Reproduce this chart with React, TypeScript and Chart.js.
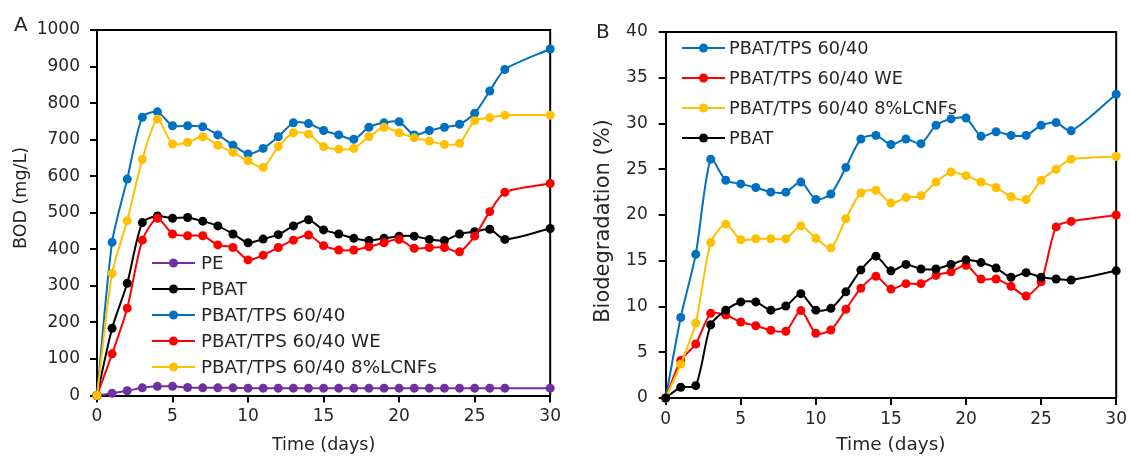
import React, { useEffect, useRef } from 'react';
import { Chart, registerables } from 'chart.js';

Chart.register(...registerables);

// ---------- data ----------
const days = [0, 1, 2, 3, 4, 5, 6, 7, 8, 9, 10, 11, 12, 13, 14, 15, 16, 17, 18, 19, 20, 21, 22, 23, 24, 25, 26, 27, 30];

// Panel A: BOD (mg/L)
const peA = [0, 6, 13, 21, 25, 25, 22, 21, 21, 21, 20, 20, 20, 20, 20, 20, 20, 20, 20, 20, 20, 20, 20, 20, 20, 20, 20, 20, 20];
const pbatA = [0, 184, 307, 473, 491, 485, 487, 477, 464, 442, 418, 428, 440, 464, 481, 453, 442, 430, 424, 430, 436, 436, 427, 424, 442, 448, 455, 427, 457];
const tpsA = [0, 419, 592, 761, 776, 738, 738, 735, 713, 685, 661, 676, 708, 746, 744, 725, 713, 701, 734, 746, 749, 713, 725, 734, 742, 772, 833, 892, 948];
const tpsWeA = [0, 114, 239, 425, 485, 442, 437, 437, 412, 405, 371, 384, 405, 425, 439, 410, 398, 398, 407, 418, 427, 403, 405, 405, 393, 436, 503, 556, 580];
const tpsLcnfA = [0, 334, 478, 646, 756, 688, 693, 708, 685, 665, 642, 624, 681, 719, 715, 681, 674, 676, 708, 734, 719, 705, 696, 687, 690, 752, 760, 767, 767];

// Panel B: Biodegradation (%)
const tpsB = [0, 8.8, 15.7, 26.1, 23.8, 23.4, 23.0, 22.5, 22.5, 23.6, 21.7, 22.3, 25.2, 28.3, 28.7, 27.7, 28.3, 27.8, 29.8, 30.5, 30.6, 28.6, 29.1, 28.7, 28.7, 29.8, 30.1, 29.2, 33.2];
const tpsWeB = [0, 4.1, 5.9, 9.25, 9.07, 8.3, 7.9, 7.4, 7.3, 9.55, 7.07, 7.43, 9.7, 12.0, 13.3, 11.9, 12.5, 12.5, 13.4, 13.8, 14.5, 13.0, 13.0, 12.2, 11.15, 12.7, 18.7, 19.3, 20.0];
const tpsLcnfB = [0, 3.7, 8.2, 17.0, 19.0, 17.3, 17.4, 17.4, 17.4, 18.8, 17.45, 16.4, 19.6, 22.4, 22.7, 21.3, 21.9, 22.1, 23.6, 24.7, 24.3, 23.6, 23.0, 22.0, 21.7, 23.8, 25.0, 26.1, 26.4];
const pbatB = [0, 1.17, 1.35, 8.0, 9.6, 10.5, 10.5, 9.6, 10.05, 11.4, 9.6, 9.8, 11.6, 14.0, 15.5, 13.9, 14.6, 14.1, 14.1, 14.6, 15.1, 14.8, 14.2, 13.2, 13.7, 13.2, 13.0, 12.9, 13.9];

const labelsA = ['PE', 'PBAT', 'PBAT/TPS 60/40', 'PBAT/TPS 60/40 WE', 'PBAT/TPS 60/40 8%LCNFs'];
const labelsB = ['PBAT/TPS 60/40', 'PBAT/TPS 60/40 WE', 'PBAT/TPS 60/40 8%LCNFs', 'PBAT'];

// ---------- styles ----------
const FONT = '"DejaVu Sans", sans-serif';
const TEXT = '#262626';
const C_PE = '#7030A0';
const C_PBAT = '#000000';
const C_BLUE = '#0070C0';
const C_RED = '#FF0000';
const C_YEL = '#FFC000';

function ds(label: string, values: number[], color: string, order: number) {
  return {
    label,
    data: days.map((d, i) => ({ x: d, y: values[i] })),
    borderColor: color,
    backgroundColor: color,
    pointBackgroundColor: color,
    pointBorderColor: color,
    pointRadius: 4.5,
    pointBorderWidth: 0,
    borderWidth: 2,
    tension: 0.25,
    clip: false as any,
    order,
  };
}

const framePlugin = {
  id: 'frame',
  beforeDatasetsDraw(chart: any) {
    const { ctx, chartArea: a } = chart;
    ctx.save();
    ctx.strokeStyle = '#000';
    ctx.lineWidth = 2;
    ctx.beginPath();
    ctx.moveTo(a.left, a.top);
    ctx.lineTo(a.right, a.top);
    ctx.lineTo(a.right, a.bottom);
    ctx.stroke();
    ctx.restore();
  },
};

const insideLegend = {
  id: 'insideLegend',
  afterDraw(chart: any, _args: any, o: any) {
    const { ctx } = chart;
    ctx.save();
    ctx.font = `${o.fontSize}px ${FONT}`;
    ctx.textBaseline = 'middle';
    ctx.textAlign = 'left';
    chart.data.datasets.forEach((d: any, i: number) => {
      const y = o.y + i * o.gap;
      ctx.strokeStyle = d.borderColor;
      ctx.lineWidth = 2;
      ctx.beginPath();
      ctx.moveTo(o.x, y);
      ctx.lineTo(o.x + o.lineLen, y);
      ctx.stroke();
      ctx.fillStyle = d.borderColor;
      ctx.beginPath();
      ctx.arc(o.x + o.lineLen / 2, y, 4.5, 0, Math.PI * 2);
      ctx.fill();
      ctx.fillStyle = TEXT;
      ctx.fillText(d.label, o.x + o.lineLen + o.textGap, y + 1);
    });
    // panel letter
    ctx.font = `${o.letterSize}px ${FONT}`;
    ctx.fillStyle = TEXT;
    ctx.fillText(o.letter, o.letterX, o.letterY);
    // y-axis title (rotated)
    ctx.save();
    ctx.translate(o.yTitleX, o.yTitleY);
    ctx.rotate(-Math.PI / 2);
    ctx.font = `${o.yTitleSize}px ${FONT}`;
    ctx.textAlign = 'center';
    ctx.textBaseline = 'middle';
    ctx.fillText(o.yTitle, 0, 0);
    ctx.restore();
    ctx.restore();
  },
};

function makeConfig(p: any) {
  const tickFont = { family: FONT, size: 17 };
  const grid = {
    display: true,
    drawOnChartArea: false,
    drawTicks: true,
    tickLength: 7,
    tickColor: '#000',
    color: '#000',
    lineWidth: 2,
  };
  return {
    type: 'line',
    data: { datasets: p.datasets },
    plugins: [framePlugin, insideLegend],
    options: {
      animation: false,
      responsive: false,
      maintainAspectRatio: false,
      layout: { padding: p.padding },
      plugins: {
        legend: { display: false },
        tooltip: { enabled: false },
        insideLegend: p.legend,
      },
      scales: {
        x: {
          type: 'linear',
          min: 0,
          max: 30,
          ticks: { stepSize: 5, font: tickFont, color: TEXT, padding: 4, maxRotation: 0, callback: (v: any) => String(v) },
          grid,
          border: { display: true, color: '#000', width: 2 },
          title: { display: true, text: 'Time (days)', font: { family: FONT, size: p.xTitleSize }, color: TEXT, padding: { top: 0, bottom: p.xTitlePad } },
          afterFit: (s: any) => { s.height = p.xHeight; },
        },
        y: {
          type: 'linear',
          min: 0,
          max: p.yMax,
          ticks: { stepSize: p.yStep, font: tickFont, color: TEXT, padding: p.yPad, callback: (v: any) => String(v) },
          grid,
          border: { display: true, color: '#000', width: 2 },
          title: { display: false },
          afterFit: (s: any) => { s.width = p.yWidth; },
        },
      },
    },
  };
}

function Panel(props: { cfg: any; width: number; left: number }) {
  const ref = useRef<HTMLCanvasElement>(null);
  useEffect(() => {
    const chart = new Chart(ref.current as HTMLCanvasElement, props.cfg);
    return () => chart.destroy();
  }, []);
  return (
    <canvas
      ref={ref}
      width={props.width}
      height={456}
      style={{ position: 'absolute', left: props.left, top: 0, width: props.width, height: 456 }}
    />
  );
}

const cfgA = makeConfig({
  datasets: [
    ds(labelsA[0], peA, C_PE, 4),
    ds(labelsA[1], pbatA, C_PBAT, 3),
    ds(labelsA[2], tpsA, C_BLUE, 2),
    ds(labelsA[3], tpsWeA, C_RED, 1),
    ds(labelsA[4], tpsLcnfA, C_YEL, 0),
  ],
  padding: { left: 0, right: 12, top: 30, bottom: 0 },
  xHeight: 60.5,
  xTitleSize: 17.5,
  xTitlePad: 0.5,
  yWidth: 97,
  yMax: 1000,
  yStep: 100,
  yPad: 10,
  legend: {
    x: 152, y: 263, gap: 26, lineLen: 43, textGap: 6, fontSize: 18.3,
    letter: 'A', letterX: 14, letterY: 26, letterSize: 20,
    yTitle: 'BOD (mg/L)', yTitleX: 21.5, yTitleY: 198, yTitleSize: 17.5,
  },
});

const cfgB = makeConfig({
  datasets: [
    ds(labelsB[0], tpsB, C_BLUE, 3),
    ds(labelsB[1], tpsWeB, C_RED, 2),
    ds(labelsB[2], tpsLcnfB, C_YEL, 1),
    ds(labelsB[3], pbatB, C_PBAT, 0),
  ],
  padding: { left: 0, right: 13, top: 32, bottom: 0 },
  xHeight: 58,
  xTitleSize: 18.5,
  xTitlePad: 0,
  yWidth: 100.7,
  yMax: 40,
  yStep: 5,
  yPad: 11,
  legend: {
    x: 117, y: 48, gap: 30, lineLen: 43, textGap: 4, fontSize: 17.7,
    letter: 'B', letterX: 31, letterY: 33, letterSize: 20,
    yTitle: 'Biodegradation (%)', yTitleX: 39, yTitleY: 221, yTitleSize: 21,
  },
});

export default function App() {
  return (
    <div style={{ position: 'absolute', left: 0, top: 0, width: 1131, height: 456, background: '#fff' }}>
      <Panel cfg={cfgA} width={565} left={0} />
      <Panel cfg={cfgB} width={566} left={565} />
    </div>
  );
}
